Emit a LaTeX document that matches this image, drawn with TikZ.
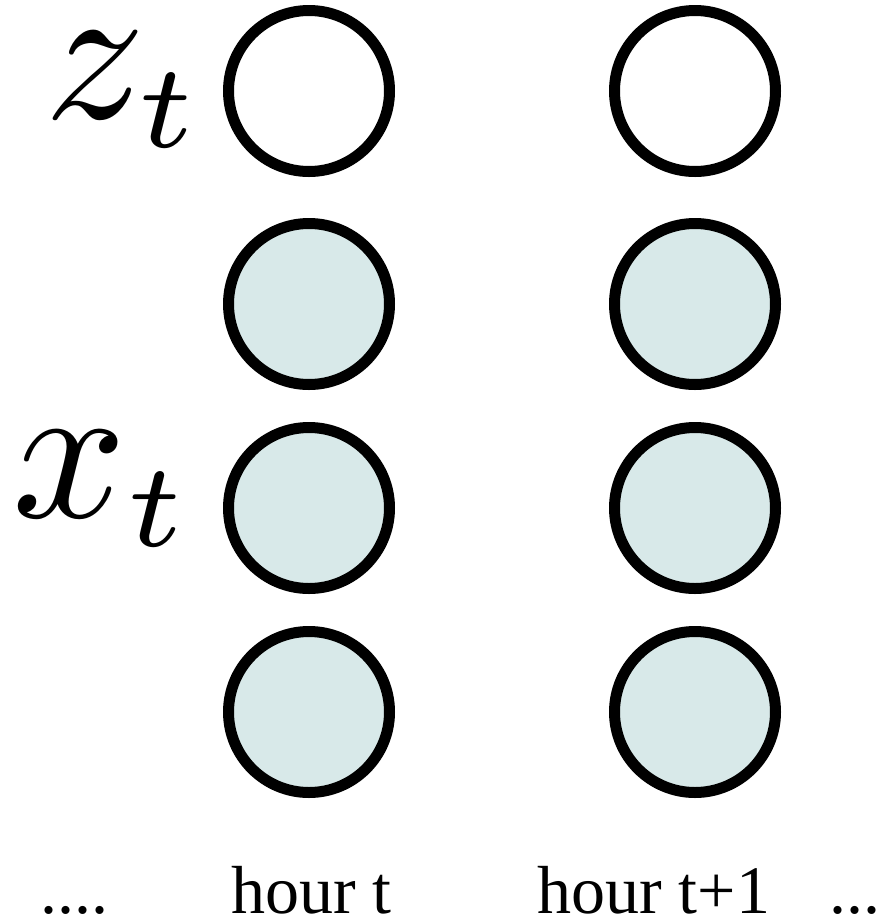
\documentclass[tikz,border=0pt]{standalone}
\usepackage{graphicx}
\usepackage{fontspec}
\setmainfont{Liberation Serif}
\DeclareMathSizes{10}{10}{6}{5}
\definecolor{nodefill}{RGB}{216,233,233}
\tikzset{
  latent/.style={circle, draw=black, line width=11pt, fill=white, minimum size=161pt, inner sep=0pt},
  observed/.style={latent, fill=nodefill},
  mathlabel/.style={anchor=base west, inner sep=0pt},
  hourlabel/.style={anchor=base west, inner sep=0pt, font=\fontsize{68}{80}\selectfont}
}
\begin{document}
\begin{tikzpicture}[x=1pt,y=-1pt]
\useasboundingbox (0,0) rectangle (885,919);
% left column (hour t)
\node[latent]   (z1) at (309,91)  {};
\node[observed] (a1) at (309,304) {};
\node[observed] (x1) at (309,508) {};
\node[observed] (b1) at (309,712) {};
% right column (hour t+1)
\node[latent]   (z2) at (695,91)  {};
\node[observed] (a2) at (695,304) {};
\node[observed] (x2) at (695,508) {};
\node[observed] (b2) at (695,712) {};
% labels
\node[mathlabel] (zl) at (44,118) {\scalebox{20}{$z_t$}};
\node[mathlabel] (xl) at (12,517) {\scalebox{20}{$x_t$}};
\node[hourlabel] (h1) at (231,913) {hour t};
\node[hourlabel] (h2) at (537,913) {hour t+1};
\node[hourlabel] (d1) at (40,913) {....};
\node[hourlabel] (d2) at (829,913) {...};
\end{tikzpicture}
\end{document}
